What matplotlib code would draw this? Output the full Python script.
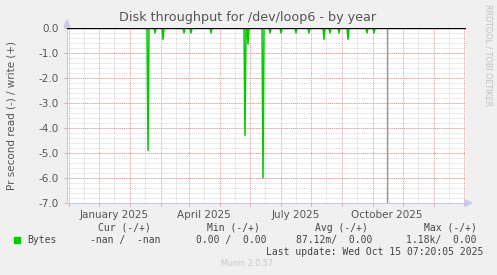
import matplotlib
matplotlib.use("Agg")
import matplotlib.pyplot as plt
import matplotlib.dates as mdates
import numpy as np
import pandas as pd

# Daily read spikes (bytes/s, shown negative = read)
spike_dates = ["2025-01-19", "2025-01-26", "2025-02-03", "2025-02-24", "2025-03-03",
               "2025-03-23", "2025-04-26", "2025-04-29", "2025-05-14", "2025-05-21",
               "2025-06-01", "2025-06-16", "2025-06-29", "2025-07-14", "2025-07-20",
               "2025-07-29", "2025-08-07", "2025-08-26", "2025-09-02"]
spike_values = [-4.9, -0.2, -0.45, -0.2, -0.2,
                -0.2, -4.3, -0.65, -6.0, -0.2,
                -0.2, -0.2, -0.2, -0.45, -0.2,
                -0.2, -0.45, -0.2, -0.2]
series_start = "2024-10-30"
series_end = "2025-10-15"
marker_date = "2025-09-15"

x_labels = ["January 2025", "April 2025", "July 2025", "October 2025"]
x_label_pos = ["2024-12-16", "2025-03-16", "2025-06-16", "2025-09-15"]
y_ticks = [0, -1, -2, -3, -4, -5, -6, -7]

legend_cols = ["Cur (-/+)", "Min (-/+)", "Avg (-/+)", "Max (-/+)"]
legend_vals = ["-nan /  -nan", "0.00 /  0.00", "87.12m/  0.00", "1.18k/  0.00"]

days = pd.date_range(series_start, series_end, freq="D")
reads = pd.Series(0.0, index=days)
reads[pd.to_datetime(spike_dates)] = spike_values

W, H = 497, 275
fig = plt.figure(figsize=(W / 100, H / 100), dpi=100, facecolor="#F0F0F0")
ax = fig.add_axes([67 / W, (H - 203) / H, 399 / W, 175 / H])
ax.set_facecolor("white")

xmin = mdates.date2num(pd.Timestamp("2024-10-30"))
xmax = mdates.date2num(pd.Timestamp("2025-12-03"))
ax.set_xlim(xmin, xmax)
ax.set_ylim(-7, 0)

# grid: gray minor, red major
months = pd.date_range("2024-11-01", "2025-12-01", freq="MS")
mids = months + pd.Timedelta(days=15)
dot = (0, (1, 1))
for d in mids:
    ax.axvline(mdates.date2num(d), color="#D0D0D0", lw=0.6, ls=dot, zorder=1)
for y in np.arange(-7, 0.01, 0.2):
    ax.axhline(y, color="#D0D0D0", lw=0.6, ls=dot, zorder=1)
for d in months:
    ax.axvline(mdates.date2num(d), color="#EE9999", lw=0.7, ls=dot, zorder=2)
for y in y_ticks:
    ax.axhline(y, color="#EE9999", lw=0.7, ls=dot, zorder=2)

ax.plot(mdates.date2num(reads.index), reads.values, color="#00CC00", lw=1.1, zorder=3)
ax.axvline(mdates.date2num(pd.Timestamp(marker_date)), color="#999999", lw=1, zorder=3)
ax.axhline(0, color="black", lw=1, zorder=4)

ax.set_xticks(mdates.date2num(pd.to_datetime(x_label_pos)))
ax.set_xticklabels(x_labels)
ax.set_xticks(mdates.date2num(months), minor=True)
ax.tick_params(axis="x", which="major", length=0, pad=5, labelsize=7.5, labelcolor="#555555")
ax.tick_params(axis="x", which="minor", length=2, color="#EE9999", width=0.7)
ax.set_yticks(y_ticks)
ax.set_yticklabels(["%.1f" % v for v in y_ticks])
ax.tick_params(axis="y", which="major", length=2, color="#EE9999", width=0.7,
               pad=4, labelsize=7.5, labelcolor="#555555")

for s in ["top", "right"]:
    ax.spines[s].set_visible(False)
for s in ["left", "bottom"]:
    ax.spines[s].set_color("#C8C8F0")
    ax.spines[s].set_linewidth(0.8)
ax.spines["left"].set_bounds(-7, 0.2)
ax.spines["bottom"].set_bounds(xmin, xmax + 2)
# axis arrows
fig.patches.append(plt.Polygon([[64 / W, (H - 27) / H], [70 / W, (H - 27) / H], [67 / W, (H - 20) / H]],
                               closed=True, transform=fig.transFigure, color="#C8C8F0"))
fig.patches.append(plt.Polygon([[465 / W, (H - 200) / H], [465 / W, (H - 206) / H], [472 / W, (H - 203) / H]],
                               closed=True, transform=fig.transFigure, color="#C8C8F0"))

fig.text(248 / W, 1 - 18 / H, "Disk throughput for /dev/loop6 - by year",
         ha="center", va="center", fontsize=9.2, color="#555555")
fig.text(12 / W, 1 - 115 / H, "Pr second read (-) / write (+)", rotation=90,
         ha="center", va="center", fontsize=7.5, color="#555555")
fig.text(488 / W, 1 - 55 / H, "RRDTOOL / TOBI OETIKER", rotation=270,
         ha="center", va="center", fontsize=5.8, color="#C0C0C0")

mono = "DejaVu Sans Mono"
head_right = [151, 260, 368, 477]
val_right = [161, 267, 372, 477]
for t, xr in zip(legend_cols, head_right):
    fig.text(xr / W, 1 - 228 / H, t, ha="right", va="center", family=mono, fontsize=7, color="#444444")
for t, xr in zip(legend_vals, val_right):
    fig.text(xr / W, 1 - 240 / H, t, ha="right", va="center", family=mono, fontsize=7, color="#444444")
fig.patches.append(plt.Rectangle((14 / W, 1 - 243 / H), 6 / W, 6 / H,
                                 transform=fig.transFigure, color="#00CC00"))
fig.text(27 / W, 1 - 240 / H, "Bytes", ha="left", va="center", family=mono, fontsize=7, color="#444444")
fig.text(483 / W, 1 - 252 / H, "Last update: Wed Oct 15 07:20:05 2025", ha="right", va="center",
         family=mono, fontsize=7, color="#444444")
fig.text(247 / W, 1 - 264 / H, "Munin 2.0.57", ha="center", va="center", fontsize=5.8, color="#C8C8C8")

fig.savefig("out.png", dpi=100, facecolor=fig.get_facecolor())
